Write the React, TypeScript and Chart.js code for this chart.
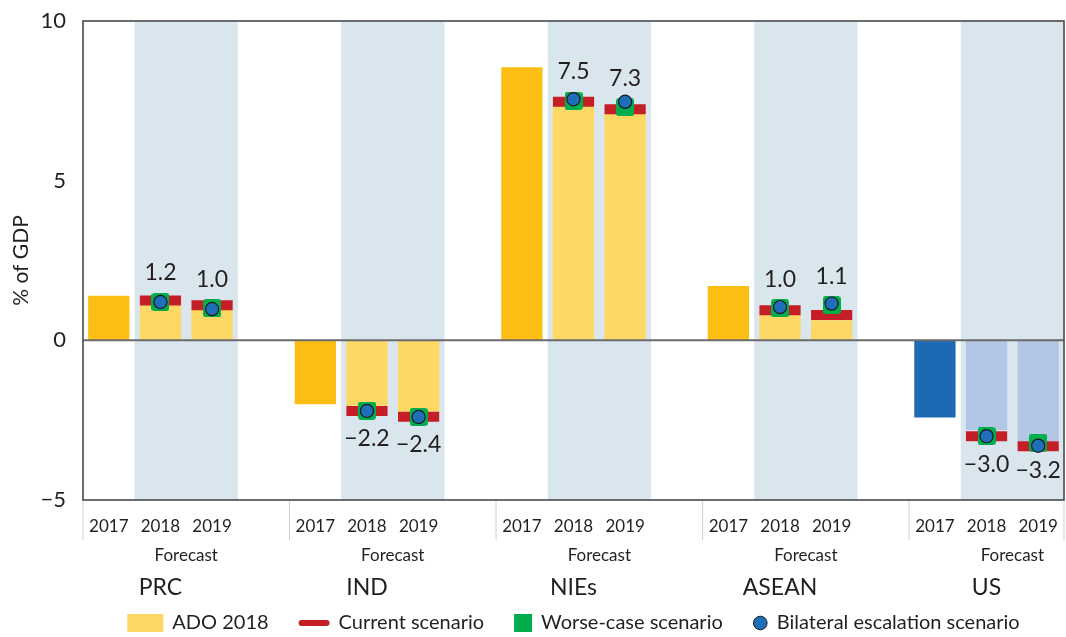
import React, { useEffect, useRef } from "react";
import { Chart, registerables } from "chart.js";

Chart.register(...registerables);

// ---------- data ----------
const groups = ["PRC", "IND", "NIEs", "ASEAN", "US"];
const years = ["2017", "2018", "2019"];
const forecastLabel = "Forecast";
const yTicks = [-5, 0, 5, 10];

const ado2017 = [1.4, -2.0, 8.55, 1.7, -2.42];
const ado2018 = [1.1, -2.05, 7.33, 0.79, -2.81];
const ado2019 = [0.95, -2.24, 7.09, 0.63, -3.16];

const current2018 = [1.25, -2.21, 7.47, 0.94, -3.0];
const current2019 = [1.1, -2.39, 7.24, 0.79, -3.32];

const worse2018 = [1.2, -2.2, 7.5, 1.0, -3.0];
const worse2019 = [1.0, -2.4, 7.3, 1.1, -3.2];

const bilateral2018 = [1.2, -2.21, 7.55, 1.04, -3.0];
const bilateral2019 = [0.98, -2.4, 7.47, 1.15, -3.3];

const legendLabels = [
  "ADO 2018",
  "Current scenario",
  "Worse-case scenario",
  "Bilateral escalation scenario",
];

// ---------- styles ----------
const FONT = "Lato";
const TEXT = "#231F20";
const YELLOW_ACTUAL = "#FDBE14";
const YELLOW_FORECAST = "#FED865";
const BLUE_ACTUAL = "#1C6AB4";
const BLUE_FORECAST = "#B4C6E6";
const BAND = "#DAE6EE";
const RED = "#C41F27";
const GREEN = "#00AE4E";
const DOT = "#1F6EBA";

const SLOTS_PER_GROUP = 4; // 3 years + spacer

function buildLabels(): string[] {
  const out: string[] = [];
  groups.forEach((_, gi) => {
    years.forEach((y) => out.push(y));
    if (gi < groups.length - 1) out.push("");
  });
  return out;
}

function seriesFor(a17: number[] | null, a18: number[], a19: number[]) {
  const out: (number | null)[] = [];
  groups.forEach((_, gi) => {
    out.push(a17 ? a17[gi] : null);
    out.push(a18[gi]);
    out.push(a19[gi]);
    if (gi < groups.length - 1) out.push(null);
  });
  return out;
}

function barColors() {
  const out: string[] = [];
  groups.forEach((g, gi) => {
    const us = g === "US";
    out.push(us ? BLUE_ACTUAL : YELLOW_ACTUAL);
    out.push(us ? BLUE_FORECAST : YELLOW_FORECAST);
    out.push(us ? BLUE_FORECAST : YELLOW_FORECAST);
    if (gi < groups.length - 1) out.push("rgba(0,0,0,0)");
  });
  return out;
}

function greenSquare(): HTMLCanvasElement {
  const c = document.createElement("canvas");
  c.width = 18;
  c.height = 18;
  const g = c.getContext("2d")!;
  g.fillStyle = GREEN;
  g.beginPath();
  (g as any).roundRect ? (g as any).roundRect(0, 0, 18, 18, 3) : g.rect(0, 0, 18, 18);
  g.fill();
  return c;
}

function fmt(v: number) {
  return (v < 0 ? "\u2212" : "") + Math.abs(v).toFixed(1);
}

function noPad(s: any) {
  s.paddingTop = 0;
  s.paddingBottom = 0;
  s.paddingLeft = 0;
  s.paddingRight = 0;
}

const decorPlugin = {
  id: "decor",
  beforeDatasetsDraw(chart: any) {
    const { ctx, chartArea: a, scales } = chart;
    const x = scales.x;
    const slot = x.getPixelForValue(1) - x.getPixelForValue(0);
    ctx.save();
    ctx.fillStyle = BAND;
    groups.forEach((_, gi) => {
      const i18 = gi * SLOTS_PER_GROUP + 1;
      const l = x.getPixelForValue(i18) - slot / 2;
      const r = x.getPixelForValue(i18 + 1) + slot / 2;
      ctx.fillRect(l, a.top, r - l, a.bottom - a.top);
    });
    ctx.restore();
  },
  afterDatasetsDraw(chart: any) {
    const { ctx, chartArea: a, scales } = chart;
    const x = scales.x;
    const y = scales.y;
    const slot = x.getPixelForValue(1) - x.getPixelForValue(0);
    ctx.save();
    // zero line
    const y0 = y.getPixelForValue(0);
    ctx.strokeStyle = "#6B6B6B";
    ctx.lineWidth = 2;
    ctx.beginPath();
    ctx.moveTo(a.left, y0);
    ctx.lineTo(a.right, y0);
    ctx.stroke();
    // frame
    ctx.strokeStyle = "#4A4A4A";
    ctx.lineWidth = 1.6;
    ctx.strokeRect(a.left, a.top, a.right - a.left, a.bottom - a.top);
    // group separators under axis
    ctx.strokeStyle = "#CFCFCF";
    ctx.lineWidth = 1;
    const seps = [a.left];
    for (let gi = 1; gi < groups.length; gi++) {
      seps.push(x.getPixelForValue(gi * SLOTS_PER_GROUP) - slot / 2);
    }
    seps.push(a.right);
    seps.forEach((sx) => {
      ctx.beginPath();
      ctx.moveTo(sx, a.bottom + 1);
      ctx.lineTo(sx, a.bottom + 40);
      ctx.stroke();
    });

    // value labels (worse-case scenario)
    ctx.fillStyle = TEXT;
    ctx.font = `23px ${FONT}`;
    ctx.textAlign = "center";
    ctx.textBaseline = "middle";
    groups.forEach((_, gi) => {
      [worse2018[gi], worse2019[gi]].forEach((v, k) => {
        const idx = gi * SLOTS_PER_GROUP + 1 + k;
        const px = x.getPixelForValue(idx);
        const py = y.getPixelForValue(v);
        ctx.fillText(fmt(v), px, v >= 0 ? py - 29 : py + 28);
      });
    });

    // Forecast + group names
    groups.forEach((g, gi) => {
      const i18 = gi * SLOTS_PER_GROUP + 1;
      const cx = (x.getPixelForValue(i18) + x.getPixelForValue(i18 + 1)) / 2;
      ctx.font = `17px ${FONT}`;
      ctx.fillText(forecastLabel, cx, 556);
      ctx.font = `23px ${FONT}`;
      ctx.fillText(g, x.getPixelForValue(i18), 588);
    });

    // legend
    ctx.font = `20px ${FONT}`;
    ctx.textAlign = "left";
    const iconW = [36, 31, 18, 15];
    const iconGap = 9;
    const itemGap = 30;
    let total = 0;
    legendLabels.forEach((t, i) => {
      total += iconW[i] + iconGap + ctx.measureText(t).width;
      if (i < legendLabels.length - 1) total += itemGap;
    });
    let lx = (a.left + a.right) / 2 - total / 2;
    const ly = 623;
    legendLabels.forEach((t, i) => {
      if (i === 0) {
        ctx.fillStyle = YELLOW_FORECAST;
        ctx.fillRect(lx, ly - 9, 36, 18);
      } else if (i === 1) {
        ctx.strokeStyle = RED;
        ctx.lineWidth = 6;
        ctx.lineCap = "round";
        ctx.beginPath();
        ctx.moveTo(lx + 3, ly);
        ctx.lineTo(lx + 28, ly);
        ctx.stroke();
        ctx.lineCap = "butt";
      } else if (i === 2) {
        ctx.fillStyle = GREEN;
        ctx.fillRect(lx, ly - 9, 18, 18);
      } else {
        ctx.fillStyle = DOT;
        ctx.strokeStyle = "#1a1a1a";
        ctx.lineWidth = 1;
        ctx.beginPath();
        ctx.arc(lx + 7.5, ly, 6.8, 0, Math.PI * 2);
        ctx.fill();
        ctx.stroke();
      }
      lx += iconW[i] + iconGap;
      ctx.fillStyle = TEXT;
      ctx.textBaseline = "middle";
      ctx.fillText(t, lx, ly);
      lx += ctx.measureText(t).width + itemGap;
    });
    ctx.restore();
  },
};

export default function App() {
  const ref = useRef<HTMLCanvasElement | null>(null);

  useEffect(() => {
    if (!ref.current) return;
    const labels = buildLabels();
    const chart = new Chart(ref.current, {
      type: "bar",
      data: {
        labels,
        datasets: [
          {
            type: "line",
            label: legendLabels[3],
            data: seriesFor(null, bilateral2018, bilateral2019),
            showLine: false,
            pointStyle: "circle",
            pointRadius: 6.6,
            pointBorderWidth: 1.2,
            pointBorderColor: "#1a1a1a",
            pointBackgroundColor: DOT,
            order: 0,
          } as any,
          {
            type: "line",
            label: legendLabels[2],
            data: seriesFor(null, worse2018, worse2019),
            showLine: false,
            pointStyle: greenSquare(),
            pointRadius: 9,
            order: 1,
          } as any,
          {
            type: "line",
            label: legendLabels[1],
            data: seriesFor(null, current2018, current2019),
            showLine: false,
            pointStyle: "line",
            pointRadius: 20.6,
            pointBorderWidth: 10,
            pointBorderColor: RED,
            pointBackgroundColor: RED,
            order: 2,
          } as any,
          {
            type: "bar",
            label: legendLabels[0],
            data: seriesFor(ado2017, ado2018, ado2019),
            backgroundColor: barColors(),
            borderWidth: 0,
            barPercentage: 0.8,
            categoryPercentage: 1,
            order: 3,
          },
        ],
      },
      options: {
        animation: false,
        responsive: true,
        maintainAspectRatio: false,
        layout: { autoPadding: false, padding: { left: 0, right: 2, top: 21, bottom: 0 } },
        plugins: {
          legend: { display: false },
          tooltip: { enabled: false },
        },
        font: { family: FONT },
        scales: {
          x: {
            type: "category",
            offset: true,
            grid: { display: false, drawTicks: false },
            border: { display: false },
            ticks: {
              autoSkip: false,
              maxRotation: 0,
              minRotation: 0,
              padding: 16,
              color: TEXT,
              font: { family: FONT, size: 17 },
            },
            afterFit: (s: any) => {
              s.height = 137;
              noPad(s);
            },
          },
          y: {
            min: -5,
            max: 10,
            grid: { display: false, drawTicks: false },
            border: { display: false },
            afterBuildTicks: (s: any) => {
              s.ticks = yTicks.map((v) => ({ value: v }));
            },
            ticks: {
              padding: 17,
              color: TEXT,
              font: { family: FONT, size: 22 },
              callback: (v: any) => (Number(v) < 0 ? "\u2212" + Math.abs(Number(v)) : String(v)),
            },
            title: {
              display: true,
              text: "% of GDP",
              color: TEXT,
              font: { family: FONT, size: 21 },
              padding: { top: 9, bottom: 0 },
            },
            afterFit: (s: any) => {
              s.width = 83;
              noPad(s);
            },
          },
        },
      } as any,
      plugins: [decorPlugin],
    });
    return () => chart.destroy();
  }, []);

  return (
    <div style={{ position: "fixed", left: 0, top: 0, width: 1066, height: 637, background: "#fff" }}>
      <canvas ref={ref} />
    </div>
  );
}
